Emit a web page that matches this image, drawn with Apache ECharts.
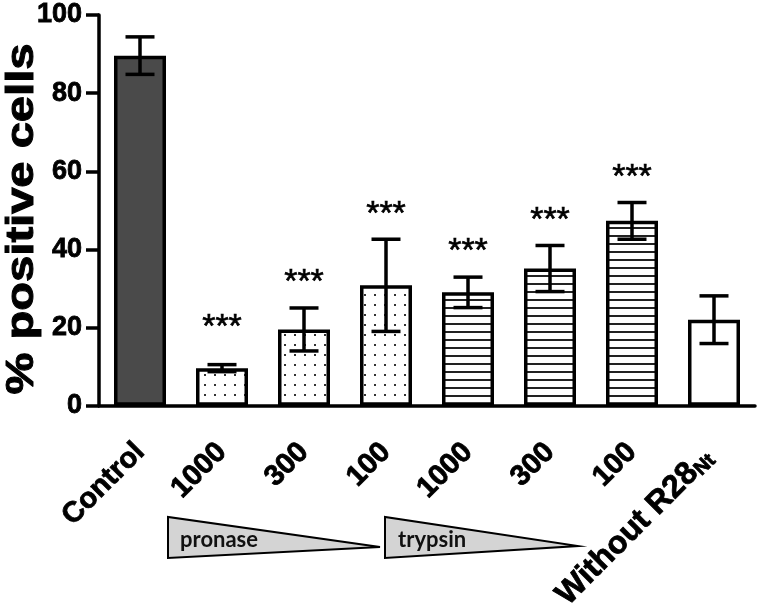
<!DOCTYPE html>
<html><head><meta charset="utf-8">
<script src="https://cdn.jsdelivr.net/npm/echarts@6/dist/echarts.min.js"></script>
<style>html,body{margin:0;padding:0;background:#fff}#c{width:760px;height:614px}</style>
</head><body><div id="c"></div>
<script>
// ---- data ----
const categories = ['Control', '1000', '300', '100', '1000', '300', '100', 'Without R28Nt'];
const means = [89.6, 9.6, 19.5, 30.8, 29.0, 35.1, 47.3, 22.0];
const sds = [4.8, 0.9, 5.5, 11.8, 3.9, 5.9, 4.7, 6.1];
const significance = ['', '***', '***', '***', '***', '***', '***', ''];
const yTicks = [0, 20, 40, 60, 80, 100];
const enzymeLabels = ['pronase', 'trypsin'];
const yTitle = '% positive cells';

// ---- styling ----
const FONT = "'Liberation Sans', Arial, sans-serif";
function dotPattern() {
  const c = document.createElement('canvas'); c.width = 10; c.height = 10;
  const g = c.getContext('2d');
  g.fillStyle = '#fff'; g.fillRect(0, 0, 10, 10);
  g.fillStyle = '#333'; g.fillRect(4, 4, 2, 2);
  return { image: c, repeat: 'repeat' };
}
function linePattern() {
  const c = document.createElement('canvas'); c.width = 8; c.height = 8;
  const g = c.getContext('2d');
  g.fillStyle = '#fff'; g.fillRect(0, 0, 8, 8);
  g.fillStyle = '#222'; g.fillRect(0, 3, 8, 2);
  return { image: c, repeat: 'repeat' };
}
const fillKinds = ['solid', 'dots', 'dots', 'dots', 'lines', 'lines', 'lines', 'none'];
function fillFor(kind) {
  if (kind === 'solid') return '#4a4a4a';
  if (kind === 'dots') return dotPattern();
  if (kind === 'lines') return linePattern();
  return '#fff';
}

const chart = echarts.init(document.getElementById('c'), null, { renderer: 'canvas' });

const barData = means.map((m, i) => ({
  value: m,
  itemStyle: { color: fillFor(fillKinds[i]), borderColor: '#000', borderWidth: 3.5 }
}));
const errData = means.map((m, i) => [i, m - sds[i], m + sds[i]]);
const starData = means.map((m, i) => [i, m + sds[i], significance[i]]);

const boldText = { color: '#000', fontFamily: FONT, fontWeight: 'bold', textBorderColor: '#000', textBorderWidth: 0.8 };

const option = {
  animation: false,
  backgroundColor: '#fff',
  grid: { left: 99, right: 5, top: 15, bottom: 196 },
  xAxis: {
    type: 'category',
    data: categories,
    axisLine: { lineStyle: { color: '#000', width: 3.5 } },
    axisTick: { alignWithLabel: true, length: 11, lineStyle: { color: '#000', width: 3.5 } },
    axisLabel: Object.assign({
      interval: 0, rotate: 45, margin: 42, fontSize: 29,
      formatter: function (v, i) {
        if (i === 7) return '{big|Without R28}{sub|Nt}';
        return v;
      },
      rich: {
        big: Object.assign({ fontSize: 32 }, boldText),
        sub: Object.assign({ fontSize: 20, verticalAlign: 'bottom', padding: [0, 8, 0, 0] }, boldText)
      }
    }, boldText)
  },
  yAxis: {
    type: 'value', min: 0, max: 100, interval: 20,
    axisLine: { show: true, lineStyle: { color: '#000', width: 3.5 } },
    axisTick: { show: true, length: 13, lineStyle: { color: '#000', width: 3.5 } },
    splitLine: { show: false },
    axisLabel: Object.assign({
      margin: 17, fontSize: 27,
      formatter: function (v) { return yTicks.indexOf(v) >= 0 ? String(v) : ''; }
    }, boldText)
  },
  series: [
    {
      type: 'bar', data: barData, barWidth: 52, z: 2
    },
    {
      type: 'custom', z: 5,
      encode: { x: 0, y: [1, 2] },
      data: errData,
      renderItem: function (params, api) {
        const x = api.value(0);
        const pLo = api.coord([x, api.value(1)]);
        const pHi = api.coord([x, api.value(2)]);
        const hw = 14.5;
        const st = { stroke: '#000', lineWidth: 3.5 };
        return {
          type: 'group', children: [
            { type: 'line', shape: { x1: pHi[0], y1: pHi[1], x2: pLo[0], y2: pLo[1] }, style: st },
            { type: 'line', shape: { x1: pHi[0] - hw, y1: pHi[1], x2: pHi[0] + hw, y2: pHi[1] }, style: st },
            { type: 'line', shape: { x1: pLo[0] - hw, y1: pLo[1], x2: pLo[0] + hw, y2: pLo[1] }, style: st }
          ]
        };
      }
    },
    {
      type: 'custom', z: 6,
      encode: { x: 0, y: 1 },
      data: starData,
      renderItem: function (params, api) {
        const i = params.dataIndex;
        const txt = starData[i][2];
        if (!txt) return null;
        const p = api.coord([i, starData[i][1]]);
        const floor = api.coord([i, 23.5])[1];
        const cy = Math.min(p[1] - 39, floor);
        return {
          type: 'text',
          style: {
            text: txt, x: p[0], y: cy + 14,
            textAlign: 'center', textVerticalAlign: 'middle',
            font: "34px " + FONT, fill: '#000', stroke: '#000', lineWidth: 0.6
          }
        };
      }
    }
  ],
  graphic: [
    {
      type: 'text', x: 23, y: 219, rotation: Math.PI / 2, scaleX: 1.24,
      style: { text: yTitle, font: "bold 38px " + FONT, fill: '#000', stroke: '#000', lineWidth: 1, textAlign: 'center', textVerticalAlign: 'middle' }
    },
    {
      type: 'polygon', shape: { points: [[168, 517], [168, 558], [380, 547]] },
      style: { fill: '#d4d4d4', stroke: '#000', lineWidth: 2 }
    },
    {
      type: 'polygon', shape: { points: [[385, 517], [385, 558], [578, 546]] },
      style: { fill: '#d4d4d4', stroke: '#000', lineWidth: 2 }
    },
    {
      type: 'text', x: 180, y: 551,
      style: { text: enzymeLabels[0], font: "bold 22px Lato, sans-serif", fill: '#111', textAlign: 'left', textVerticalAlign: 'bottom' }
    },
    {
      type: 'text', x: 398, y: 551,
      style: { text: enzymeLabels[1], font: "bold 22px Lato, sans-serif", fill: '#111', textAlign: 'left', textVerticalAlign: 'bottom' }
    }
  ]
};
chart.setOption(option);
</script>
</body></html>
